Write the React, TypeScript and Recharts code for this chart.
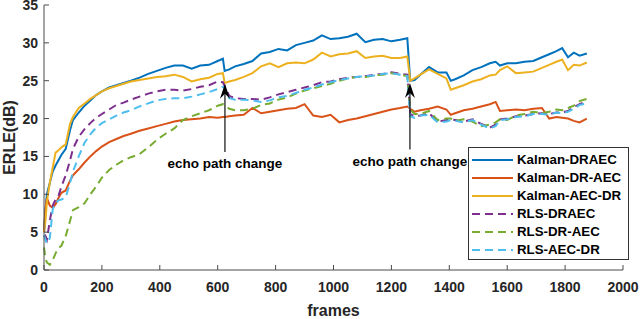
import React from "react";
import {
  LineChart,
  Line,
  XAxis,
  YAxis,
  Legend,
  ReferenceLine,
} from "recharts";

// frame index of every sample
const frames = [
  0, 5, 10, 20, 30, 40, 50, 60, 75, 90,
  100, 120, 140, 160, 180, 200, 225, 250, 275, 300,
  330, 360, 390, 420, 450, 480, 510, 540, 570, 600,
  618, 624, 640, 660, 690, 720, 750, 780, 810, 840,
  870, 900, 930, 960, 990, 1020, 1050, 1080, 1110, 1140,
  1170, 1200, 1230, 1255, 1265, 1280, 1300, 1330, 1360, 1390,
  1405, 1420, 1450, 1480, 1510, 1540, 1560, 1575, 1600, 1630,
  1660, 1690, 1720, 1745, 1770, 1790, 1810, 1830, 1850, 1875,
];

const kalmanDRAEC = [
  5, 8, 10, 11.5, 13, 13.8, 14.5, 15.2, 16, 18.5,
  19.8, 20.8, 21.7, 22.4, 23.1, 23.6, 24.1, 24.4, 24.7, 25.0,
  25.4, 25.9, 26.3, 26.7, 27.0, 27.0, 26.6, 27.0, 27.1, 27.6,
  27.9, 26.3, 26.5, 26.9, 27.2, 27.6, 28.6, 28.8, 29.2, 29.0,
  29.7, 30.0, 30.3, 31.0, 30.5, 30.6, 30.8, 31.2, 30.1, 30.4,
  30.5, 30.2, 30.4, 30.6, 25.0, 25.1, 25.8, 26.8, 26.1, 26.1,
  25.0, 25.2, 25.7, 26.4, 26.8, 27.3, 27.5, 27.0, 27.3, 27.3,
  27.5, 27.6, 28.1, 28.5, 28.9, 29.3, 28.1, 28.7, 28.3, 28.6,
];

const kalmanDR_AEC = [
  5, 8, 9.5, 8.5, 8.2, 8.7, 9.5, 10.2, 10.5, 11.8,
  12.5, 13.3, 14.2, 15.0, 15.7, 16.3, 16.9, 17.3, 17.7, 18.0,
  18.4, 18.7, 19.0, 19.3, 19.6, 19.8, 19.9, 20.0, 20.2, 20.1,
  20.2, 20.2, 20.3, 20.4, 20.5, 21.4, 20.7, 20.9, 21.1, 21.3,
  21.4, 21.9, 20.4, 20.2, 20.5, 19.5, 19.8, 20.0, 20.3, 20.6,
  20.9, 21.2, 21.4, 21.6, 21.3, 20.9, 21.1, 21.3, 21.6, 21.2,
  20.5, 20.7, 21.1, 21.3, 21.6, 21.9, 22.2, 21.0, 21.1, 21.2,
  21.1, 21.3, 21.4, 20.0, 20.2, 20.1, 20.0, 19.7, 19.5, 20.0,
];

const kalmanAEC_DR = [
  5, 6.5, 9, 11.5, 13.5, 15.5, 15.8, 16.2, 16.6, 19.3,
  20.2, 21.4, 22.0, 22.6, 23.1, 23.6, 24.0, 24.3, 24.6, 24.9,
  25.1, 25.3, 25.5, 25.6, 25.8, 25.5, 24.9, 25.2, 25.4, 25.9,
  26.0, 24.7, 24.9, 25.1, 25.5, 26.0, 26.9, 27.3, 26.8, 27.3,
  27.4, 27.3, 27.8, 28.7, 28.2, 28.5, 28.6, 28.9, 28.0, 28.2,
  28.3, 28.0, 28.0, 28.2, 25.0, 25.3, 25.8, 26.5, 25.9, 25.3,
  23.8, 24.0, 24.4, 24.9, 25.2, 25.7, 25.8, 26.4, 26.9, 26.0,
  26.1, 26.2, 26.7, 27.1, 27.5, 27.8, 26.4, 27.1, 27.0, 27.4,
];

const rlsDRAEC = [
  4.3, 4.5, 4.0, 6.5, 8.5, 9.3, 9.8, 11.0, 12.5, 14.5,
  16.0, 17.6, 18.6, 19.4, 20.1, 20.6, 21.2, 21.8, 22.1, 22.5,
  22.9, 23.3, 23.6, 23.8, 23.8, 23.7, 23.9, 24.2, 24.4, 24.9,
  24.8, 24.3, 23.0, 22.7, 22.6, 22.6, 22.5, 22.8, 23.2, 23.5,
  23.8, 24.1, 24.4, 24.8, 24.9, 25.2, 25.4, 25.5, 25.6, 25.8,
  25.9, 26.1, 25.9, 25.8, 20.6, 20.3, 20.4, 20.7, 19.6, 19.8,
  19.9, 19.8, 19.6, 19.9, 19.3, 18.8, 19.2, 19.9, 20.0, 20.3,
  20.4, 20.6, 20.7, 20.6, 20.8, 20.8, 21.0, 21.5, 21.9, 22.3,
];

const rlsDR_AEC = [
  3, 1.5, 1, 0.7, 1.3, 2.2, 2.9, 3.2, 4.5, 6.5,
  7.9, 8.3, 8.8, 10.0, 11.0, 12.2, 13.2, 13.9, 14.5, 14.9,
  15.3, 16.2, 17.2, 18.0, 18.7, 19.8, 20.3, 20.7, 21.1, 21.7,
  21.9, 21.8, 21.3, 21.1, 21.1, 21.3, 21.8, 22.0, 22.5, 22.8,
  23.3, 23.7, 24.0, 24.3, 24.6, 25.0, 25.3, 25.5, 25.5, 25.7,
  25.8, 26.0, 25.8, 25.6, 21.2, 20.6, 20.6, 21.0, 19.8, 20.0,
  20.0, 19.7, 19.9, 19.6, 19.0, 19.2, 19.5, 19.9, 19.8, 20.4,
  20.6, 20.9, 20.7, 20.9, 21.2, 21.1, 21.4, 21.7, 22.3, 22.6,
];

const rlsAEC_DR = [
  4.6, 4.0, 3.5, 4.2, 8.0, 8.8, 9.2, 9.3, 9.6, 11.5,
  13.0, 15.0, 16.8, 17.9, 18.8, 19.4, 19.9, 20.4, 20.8, 21.1,
  21.6, 22.0, 22.4, 22.6, 22.7, 22.7, 22.9, 23.2, 23.5, 23.9,
  24.2, 24.0, 22.7, 22.5, 22.5, 22.4, 22.2, 22.4, 22.8, 23.0,
  23.4, 23.8, 24.1, 24.5, 24.8, 25.1, 25.3, 25.5, 25.6, 25.7,
  25.9, 26.0, 25.8, 25.6, 20.3, 20.1, 20.4, 20.5, 19.5, 19.6,
  19.8, 19.7, 19.5, 19.8, 19.2, 18.7, 19.0, 19.8, 19.9, 20.2,
  20.3, 20.6, 20.6, 20.5, 20.8, 20.7, 20.9, 21.3, 21.8, 22.0,
];

const xTicks = [0, 200, 400, 600, 800, 1000, 1200, 1400, 1600, 1800, 2000];
const yTicks = [0, 5, 10, 15, 20, 25, 30, 35];

// echo path change markers: frame, arrow foot, arrow tip (dB)
const changeFrames = [625, 1264];
const arrowFoot = [15.6, 15.9];
const arrowTip = [24.6, 24.7];

const SERIES = [
  { key: "kd", name: "Kalman-DRAEC", color: "#0072BD", dash: undefined, values: kalmanDRAEC },
  { key: "kda", name: "Kalman-DR-AEC", color: "#D95319", dash: undefined, values: kalmanDR_AEC },
  { key: "kad", name: "Kalman-AEC-DR", color: "#EDB120", dash: undefined, values: kalmanAEC_DR },
  { key: "rd", name: "RLS-DRAEC", color: "#7E2F8E", dash: "8 5", values: rlsDRAEC },
  { key: "rda", name: "RLS-DR-AEC", color: "#77AC30", dash: "8 5", values: rlsDR_AEC },
  { key: "rad", name: "RLS-AEC-DR", color: "#4DBEEE", dash: "8 5", values: rlsAEC_DR },
];

const FONT = "'Liberation Sans', Arial, sans-serif";
const AXIS = "#4a4a4a";
const INK = "#262626";

const data = frames.map((f, i) => {
  const row: Record<string, number> = { frame: f };
  SERIES.forEach((s) => (row[s.key] = s.values[i]));
  return row;
});

const XTick = (props: any) => {
  const { x, y, payload } = props;
  return (
    <g>
      <line x1={x} y1={y} x2={x} y2={y - 5} stroke={AXIS} />
      <text x={x} y={y + 22} textAnchor="middle" fontSize={14} fontWeight="bold" fill={INK} fontFamily={FONT}>
        {payload.value}
      </text>
    </g>
  );
};

const YTick = (props: any) => {
  const { x, y, payload } = props;
  return (
    <g>
      <line x1={x} y1={y} x2={x + 5} y2={y} stroke={AXIS} />
      <text x={x - 6} y={y + 5} textAnchor="end" fontSize={14} fontWeight="bold" fill={INK} fontFamily={FONT}>
        {payload.value}
      </text>
    </g>
  );
};

const Arrow = (props: any) => {
  const { x1, y1, y2 } = props;
  const base = Math.max(y1, y2);
  const tip = Math.min(y1, y2);
  return (
    <g>
      <line x1={x1} y1={base} x2={x1} y2={tip + 10} stroke="#222" strokeWidth={1.3} />
      <path d={`M${x1},${tip} L${x1 - 5},${tip + 15} L${x1},${tip + 10} L${x1 + 5},${tip + 15} Z`} fill="#000" />
      <text x={x1} y={base + 16} textAnchor="middle" fontSize={13.5} fontWeight="bold" fill="#000" fontFamily={FONT}>
        echo path change
      </text>
    </g>
  );
};

const LegendBox = () => (
  <div
    style={{
      border: "1px solid #333",
      background: "#fff",
      width: 161,
      height: 113,
      paddingTop: 3,
      boxSizing: "border-box",
      fontFamily: FONT,
      overflow: "visible",
    }}
  >
    {SERIES.map((s) => (
      <div key={s.key} style={{ display: "flex", alignItems: "center", height: 18, whiteSpace: "nowrap" }}>
        <svg width={48} height={18} style={{ flexShrink: 0 }}>
          <line x1={3} x2={44} y1={9} y2={9} stroke={s.color} strokeWidth={2} strokeDasharray={s.dash} />
        </svg>
        <span style={{ fontSize: 13.3, fontWeight: "bold", color: "#000", lineHeight: "18px", whiteSpace: "nowrap" }}>
          {s.name}
        </span>
      </div>
    ))}
  </div>
);

export default function App() {
  return (
    <div style={{ position: "absolute", left: 0, top: 0, width: 640, height: 319, background: "#fff" }}>
      <LineChart width={640} height={319} data={data} margin={{ top: 5, right: 17, bottom: 0, left: 0 }}>
        <XAxis
          dataKey="frame"
          type="number"
          domain={[0, 2000]}
          ticks={xTicks}
          height={49}
          stroke={AXIS}
          tickSize={0}
          tickMargin={0}
          tick={<XTick />}
          interval={0}
          label={({ viewBox }: any) => (
            <text
              x={viewBox.x + viewBox.width / 2}
              y={316}
              textAnchor="middle"
              fontSize={16}
              fontWeight="bold"
              fill={INK}
              fontFamily={FONT}
            >
              frames
            </text>
          )}
        />
        <YAxis
          type="number"
          domain={[0, 35]}
          ticks={yTicks}
          width={44}
          stroke={AXIS}
          tickSize={0}
          tickMargin={0}
          tick={<YTick />}
          interval={0}
          label={({ viewBox }: any) => (
            <text
              x={15}
              y={viewBox.y + viewBox.height / 2}
              transform={`rotate(-90 15 ${viewBox.y + viewBox.height / 2})`}
              textAnchor="middle"
              fontSize={16}
              fontWeight="bold"
              fill={INK}
              fontFamily={FONT}
            >
              ERLE(dB)
            </text>
          )}
        />
        {SERIES.map((s) => (
          <Line
            key={s.key}
            type="linear"
            dataKey={s.key}
            name={s.name}
            stroke={s.color}
            strokeWidth={2}
            strokeDasharray={s.dash}
            dot={false}
            activeDot={false}
            isAnimationActive={false}
          />
        ))}
        {changeFrames.map((f, i) => (
          <ReferenceLine
            key={f}
            segment={[
              { x: f, y: arrowFoot[i] },
              { x: f, y: arrowTip[i] },
            ]}
            ifOverflow="visible"
            shape={<Arrow />}
          />
        ))}
        <Legend
          layout="vertical"
          align="center"
          verticalAlign="middle"
          content={<LegendBox />}
          wrapperStyle={{ left: 468, top: 147, width: 161 }}
        />
      </LineChart>
    </div>
  );
}
